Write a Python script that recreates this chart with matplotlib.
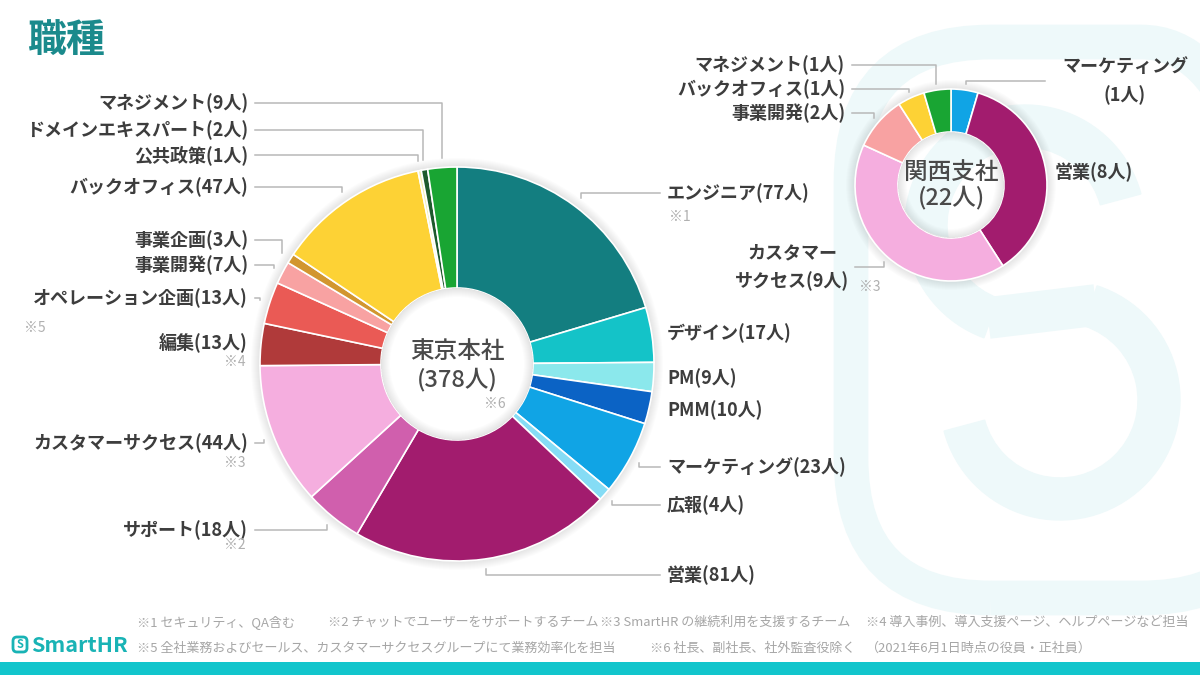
import numpy as np
import matplotlib.pyplot as plt
from matplotlib.patches import Wedge, FancyBboxPatch, Rectangle

plt.rcParams['font.family'] = ['Noto Sans CJK JP', 'DejaVu Sans']

# 東京本社 (時計回り、12時から)
tokyo_labels = ['エンジニア', 'デザイン', 'PM', 'PMM', 'マーケティング', '広報', '営業',
                'サポート', 'カスタマーサクセス', '編集', 'オペレーション企画', '事業開発',
                '事業企画', 'バックオフィス', '公共政策', 'ドメインエキスパート', 'マネジメント']
tokyo_counts = [77, 17, 9, 10, 23, 4, 81, 18, 44, 13, 13, 7, 3, 47, 1, 2, 9]
tokyo_notes = ['※1', '', '', '', '', '', '', '※2', '※3', '※4', '※5', '', '', '', '', '', '']

# 関西支社
kansai_labels = ['マーケティング', '営業', 'カスタマーサクセス', '事業開発', 'バックオフィス', 'マネジメント']
kansai_counts = [1, 8, 9, 2, 1, 1]

footnotes_1 = ['※1 セキュリティ、QA含む', '※2 チャットでユーザーをサポートするチーム',
               '※3 SmartHR の継続利用を支援するチーム', '※4 導入事例、導入支援ページ、ヘルプページなど担当']
footnotes_2 = ['※5 全社業務およびセールス、カスタマーサクセスグループにて業務効率化を担当',
               '※6 社長、副社長、社外監査役除く', '（2021年6月1日時点の役員・正社員）']

# 色
tokyo_colors = ['#137e80', '#14c3c8', '#8be8ec', '#0b63c5', '#10a4e5', '#85dcf5', '#a21c6e',
                '#d05fad', '#f5aedf', '#b03a3a', '#ea5a55', '#f8a2a2', '#d2962f', '#fdd235',
                '#f3eeb0', '#1d5a2c', '#19a533']
kansai_colors = ['#10a4e5', '#a21c6e', '#f5aedf', '#f8a2a2', '#fdd235', '#19a533']

TEAL = '#1b8a8c'
TXT = '#3d3d3d'
LINE = '#b8b8b8'
NOTE = '#b0b0b0'
H = 675


def Y(y):
    # 上からのピクセル -> データ座標
    return H - y


fig = plt.figure(figsize=(12, 6.75), dpi=100)
ax = fig.add_axes([0, 0, 1, 1])

# 背景のロゴ(薄いシアン)
logo = '#eef9fa'
ax.add_patch(FancyBboxPatch((851, Y(598)), 430, 556, boxstyle='round,pad=0,rounding_size=140',
                            fill=False, ec=logo, lw=25, zorder=0))
ax.add_patch(Wedge((1025, Y(225)), 120, 15, 250, width=42, color=logo, zorder=0))
ax.add_patch(Wedge((1060, Y(400)), 120, -165, 72, width=42, color=logo, zorder=0))
ax.plot([988, 1096], [Y(318), Y(305)], color=logo, lw=30, solid_capstyle='butt', zorder=0)


def donut(counts, colors, cx, cy, r, r_in):
    c = (cx, Y(cy))
    # 影
    for k in range(1, 10):
        ax.add_patch(Wedge(c, r + k, 0, 360, width=k, color='#000000', alpha=0.012, lw=0, zorder=1))
        ax.add_patch(Wedge(c, r_in, 0, 360, width=k, color='#000000', alpha=0.012, lw=0, zorder=3))
    ax.pie(counts, colors=colors, center=c, radius=r, startangle=90, counterclock=False,
           wedgeprops=dict(width=r - r_in, edgecolor='white', linewidth=1.2, zorder=2))


def anchor(counts, i, cx, cy, r):
    tot = sum(counts)
    mid = (sum(counts[:i]) + counts[i] / 2) / tot * 2 * np.pi
    return cx + r * np.sin(mid), cy - r * np.cos(mid)


def leader(x0, y0, ax_x, ax_y):
    ax.plot([x0, ax_x, ax_x], [Y(y0), Y(y0), Y(ax_y)], color=LINE, lw=1.1, zorder=4)


# 東京本社
tcx, tcy, tr, tri = 457, 364, 197, 76
donut(tokyo_counts, tokyo_colors, tcx, tcy, tr, tri)

# ラベル配置: (y, 左右, 引き出し線)
tokyo_pos = [(193, 'R', True), (333, 'R', False), (378, 'R', False), (410, 'R', False),
             (467, 'R', True), (505, 'R', True), (575, 'R', True), (530, 'L', True),
             (443, 'L', True), (343, 'L', False), (298, 'L', True), (265, 'L', True),
             (240, 'L', True), (187, 'L', True), (155, 'L', True), (130, 'L', True),
             (103, 'L', True)]
note_pos = {0: (680, 217), 7: (235, 545), 8: (235, 463), 9: (235, 362), 10: (35, 328)}

for i, (lab, n) in enumerate(zip(tokyo_labels, tokyo_counts)):
    y, side, has_line = tokyo_pos[i]
    txt = f'{lab}({n}人)'
    if side == 'L':
        ax.text(248, Y(y), txt, ha='right', va='center', fontsize=13, color=TXT, fontweight='bold', zorder=5)
        x0 = 255
    else:
        ax.text(667, Y(y), txt, ha='left', va='center', fontsize=13, color=TXT, fontweight='bold', zorder=5)
        x0 = 660
    if has_line:
        axx, axy = anchor(tokyo_counts, i, tcx, tcy, tr + 10)
        leader(x0, y, axx, axy)
    if i in note_pos:
        nx, ny = note_pos[i]
        ax.text(nx, Y(ny), tokyo_notes[i], ha='center', va='center', fontsize=10, color=NOTE, zorder=5)

ax.text(tcx, Y(352), '東京本社', ha='center', va='center', fontsize=17, color='#4a4a4a',
        fontweight='medium', zorder=5)
ax.text(tcx, Y(379), f'({sum(tokyo_counts)}人)', ha='center', va='center', fontsize=17, color='#4a4a4a',
        fontweight='medium', zorder=5)
ax.text(495, Y(404), '※6', ha='center', va='center', fontsize=10, color=NOTE, zorder=5)

# 関西支社
kcx, kcy, kr, kri = 951, 185, 96, 53
donut(kansai_counts, kansai_colors, kcx, kcy, kr, kri)

kansai_pos = [(1125, 81, 'C', 1045), (1055, 172, 'R', None), (792, 267, 'C', 855),
              (845, 113, 'L', 852), (845, 89, 'L', 852), (845, 65, 'L', 852)]
for i, (lab, n) in enumerate(zip(kansai_labels, kansai_counts)):
    x, y, side, x0 = kansai_pos[i]
    if lab == 'マーケティング':
        txt = f'{lab}\n({n}人)'
    elif lab == 'カスタマーサクセス':
        txt = f'カスタマー\nサクセス({n}人)'
    else:
        txt = f'{lab}({n}人)'
    ha = {'L': 'right', 'R': 'left', 'C': 'center'}[side]
    ax.text(x, Y(y), txt, ha=ha, va='center', fontsize=13, color=TXT, fontweight='bold',
            linespacing=1.55, multialignment='center', zorder=5)
    if x0 is not None:
        axx, axy = anchor(kansai_counts, i, kcx, kcy, kr + 6)
        leader(x0, y, axx, axy)
ax.text(870, Y(287), '※3', ha='center', va='center', fontsize=10, color=NOTE, zorder=5)
ax.text(kcx, Y(172), '関西支社', ha='center', va='center', fontsize=17, color='#4a4a4a',
        fontweight='medium', zorder=5)
ax.text(kcx, Y(197), f'({sum(kansai_counts)}人)', ha='center', va='center', fontsize=17, color='#4a4a4a',
        fontweight='medium', zorder=5)

# タイトル
ax.text(27, Y(40), '職種', ha='left', va='center', fontsize=28, color=TEAL, fontweight='bold')

# 脚注
for x, s in zip([137, 328, 600, 866], footnotes_1):
    ax.text(x, Y(622), s, ha='left', va='center', fontsize=9.4, color='#a6a6a6')
for x, s in zip([137, 650, 866], footnotes_2):
    ax.text(x, Y(648), s, ha='left', va='center', fontsize=9.4, color='#a6a6a6')

# SmartHR ロゴ
ax.add_patch(FancyBboxPatch((13, Y(652)), 14, 15, boxstyle='round,pad=0,rounding_size=4',
                            fill=False, ec='#19b3b5', lw=2))
ax.text(20, Y(644.5), 'S', ha='center', va='center', fontsize=8, color='#19b3b5', fontweight='bold')
ax.text(31, Y(645), 'SmartHR', ha='left', va='center', fontsize=15.5, color='#19b3b5', fontweight='bold')

# 下のバー
ax.add_patch(Rectangle((0, 0), 1200, 13, color='#12c5cc', lw=0))

ax.set_xlim(0, 1200)
ax.set_ylim(0, H)
ax.set_aspect('auto')
ax.axis('off')
fig.savefig('out.png', dpi=100, facecolor='white')
